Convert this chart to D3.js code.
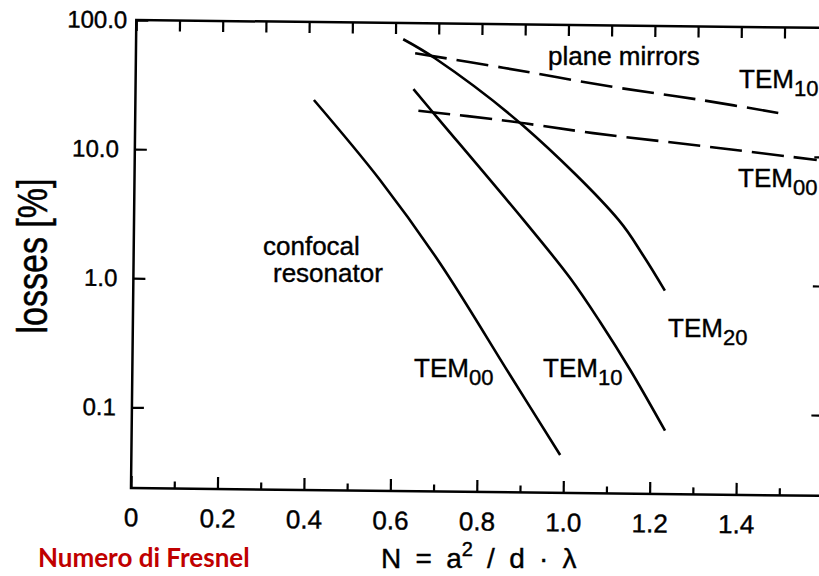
<!DOCTYPE html>
<html>
<head>
<meta charset="utf-8">
<script src="https://cdn.jsdelivr.net/npm/d3@7"></script>
<style>
  html, body { margin: 0; padding: 0; background: #fff; }
  svg { display: block; font-family: "Liberation Sans", Arial, Helvetica, sans-serif; }
</style>
</head>
<body>
<svg id="chart" width="819" height="576"></svg>
<script>
// values (N, losses in %)
const confocalTem00 = [
  [0.413, 24.9], [0.568, 6.06], [0.709, 1.39], [0.874, 0.192], [0.992, 0.0466]
];
const confocalTem10 = [
  [0.643, 30.8], [0.694, 19.5], [0.901, 3.06], [1.010, 1.10],
  [1.081, 0.503], [1.152, 0.215], [1.234, 0.0734]
];
const confocalTem20 = [
  [0.618, 74.9], [0.692, 53.7], [0.898, 16.4], [1.121, 3.12],
  [1.179, 1.66], [1.230, 0.891]
];
const planeTem10 = [
  [0.646, 58.5], [0.850, 46.0], [1.105, 33.4], [1.306, 27.0], [1.500, 21.4]
];
const planeTem00 = [
  [0.655, 21.0], [0.844, 18.1], [1.060, 14.6], [1.308, 11.9], [1.578, 9.46]
];

const xMajor = [0, 0.2, 0.4, 0.6, 0.8, 1.0, 1.2, 1.4];
const xMinor = [0.1, 0.3, 0.5, 0.7, 0.9, 1.1, 1.3, 1.5];
const yTicks = [0.1, 1, 10, 100];
const yTickLabels = ["0.1", "1.0", "10.0", "100.0"];

const svg = d3.select("#chart");
svg.append("rect").attr("width", 819).attr("height", 576).attr("fill", "#fff");

// plot frame (unrotated coordinates); the scan is tilted a bit
const plotLeft = 131, plotTop = 20, plotBottom = 488;
const x = d3.scaleLinear().domain([0, 1.6]).range([plotLeft, plotLeft + 1.6 * 432.2]);
const y = d3.scaleLog().domain([0.0237, 100]).range([plotBottom, plotTop]);

const g = svg.append("g").attr("transform", `rotate(0.65, ${plotLeft}, ${plotBottom})`);

g.append("rect")
  .attr("x", x(0)).attr("y", y(100))
  .attr("width", x(1.6) - x(0)).attr("height", y(0.0237) - y(100))
  .attr("fill", "none").attr("stroke", "#000").attr("stroke-width", 2.5);

function styleAxis(sel) {
  sel.select(".domain").remove();
  sel.selectAll(".tick line").attr("stroke", "#000").attr("stroke-width", 2.2);
  sel.attr("font-family", null);
  sel.selectAll("text").attr("fill", "#000").attr("stroke", "#000").attr("stroke-width", 0.4);
}

// bottom axis
g.append("g").attr("transform", `translate(0,${plotBottom})`)
  .call(d3.axisBottom(x).tickValues(xMajor).tickSize(-12).tickPadding(20)
    .tickFormat(d => d === 0 ? "0" : d.toFixed(1)))
  .call(styleAxis)
  .attr("font-size", 26);
g.append("g").attr("transform", `translate(0,${plotBottom})`)
  .call(d3.axisBottom(x).tickValues(xMinor).tickSize(-7).tickFormat(""))
  .call(styleAxis);

// top axis
g.append("g").attr("transform", `translate(0,${plotTop})`)
  .call(d3.axisTop(x).tickValues(xMajor.concat(xMinor)).tickSize(-11).tickFormat(""))
  .call(styleAxis);

// left axis
const yAxisG = g.append("g").attr("transform", `translate(${plotLeft},0)`)
  .call(d3.axisLeft(y).tickValues(yTicks).tickSize(-12).tickPadding(16)
    .tickFormat((d, i) => yTickLabels[i]))
  .call(styleAxis)
  .attr("font-size", 24);
yAxisG.selectAll(".tick text").filter(d => d === 100).attr("dx", 7);

// right axis (line itself falls just outside the picture)
g.append("g").attr("transform", `translate(${x(1.6)},0)`)
  .call(d3.axisRight(y).tickValues([0.1, 1, 10]).tickSize(-12).tickFormat(""))
  .call(styleAxis);

const line = d3.line()
  .x(d => x(d[0]))
  .y(d => y(d[1]))
  .curve(d3.curveCatmullRom);

const curves = [
  { data: confocalTem00, dash: null },
  { data: confocalTem10, dash: null },
  { data: confocalTem20, dash: null },
  { data: planeTem10, dash: "32,10" },
  { data: planeTem00, dash: "32,10" }
];

g.selectAll("path.curve")
  .data(curves)
  .join("path")
  .attr("class", "curve")
  .attr("d", d => line(d.data))
  .attr("fill", "none")
  .attr("stroke", "#000")
  .attr("stroke-width", 2.6)
  .attr("stroke-dasharray", d => d.dash);

// annotations
const ann = svg.append("g").attr("font-size", 26).attr("fill", "#000")
  .attr("stroke", "#000").attr("stroke-width", 0.4);

function temLabel(px, py, sub) {
  const t = ann.append("text").attr("x", px).attr("y", py);
  t.append("tspan").text("TEM");
  t.append("tspan").attr("dy", 8).attr("font-size", 22).text(sub);
}
temLabel(739, 88, "10");
temLabel(738, 187, "00");
temLabel(668, 337, "20");
temLabel(414, 377, "00");
temLabel(543, 377, "10");

ann.append("text").attr("x", 548).attr("y", 65).text("plane mirrors");
ann.append("text").attr("x", 263).attr("y", 255).text("confocal");
ann.append("text").attr("x", 273).attr("y", 282).text("resonator");

// axis titles
ann.append("text")
  .attr("transform", "translate(47,256) scale(1.25,1) rotate(-90)")
  .attr("text-anchor", "middle")
  .attr("font-size", 34)
  .text("losses [%]");

svg.append("text")
  .attr("x", 38).attr("y", 567)
  .attr("font-family", "Lato, 'Open Sans', sans-serif")
  .attr("font-weight", "bold")
  .attr("font-size", 26)
  .attr("fill", "#c00000")
  .text("Numero di Fresnel");

const ft = ann.append("text").attr("x", 381).attr("y", 568)
  .attr("font-size", 28).attr("word-spacing", 6.5);
ft.append("tspan").text("N = a");
ft.append("tspan").attr("dy", -12).attr("font-size", 20).text("2");
ft.append("tspan").attr("dy", 12).text(" / d \u00b7 \u03bb");
</script>
</body>
</html>
